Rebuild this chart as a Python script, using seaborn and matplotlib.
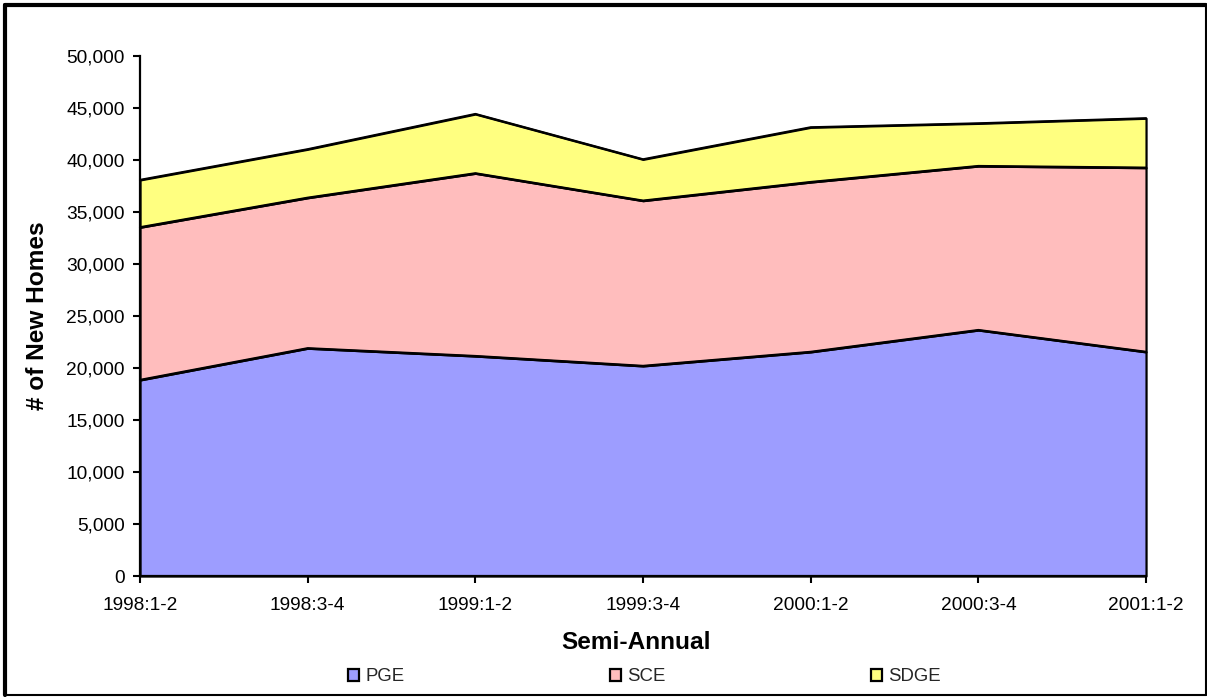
import matplotlib
matplotlib.use("Agg")
import matplotlib.pyplot as plt
from matplotlib.patches import Patch
from matplotlib.lines import Line2D
from matplotlib.ticker import FuncFormatter, MultipleLocator
import numpy as np
import pandas as pd
import seaborn as sns

# New homes per semi-annual period, by utility
periods = ["1998:1-2", "1998:3-4", "1999:1-2", "1999:3-4", "2000:1-2", "2000:3-4", "2001:1-2"]
pge = [18850, 21900, 21150, 20200, 21550, 23650, 21550]
sce = [14680, 14470, 17570, 15890, 16330, 15770, 17710]
sdge = [4550, 4660, 5700, 3970, 5260, 4100, 4750]
series_names = ["PGE", "SCE", "SDGE"]
series_colors = ["#9D9DFF", "#FFBDBD", "#FFFF80"]

sns.set_theme(style="ticks")
plt.rcParams["font.family"] = ["Liberation Sans", "DejaVu Sans"]

df = pd.DataFrame({"period": periods, "PGE": pge, "SCE": sce, "SDGE": sdge})
x = np.arange(len(periods))

fig = plt.figure(figsize=(12.07, 6.97), dpi=100)
ax = fig.add_axes([0.1160, 0.1736, 0.8335, 0.7461])

polys = ax.stackplot(x, df["PGE"], df["SCE"], df["SDGE"],
                     colors=series_colors, edgecolor="black", linewidth=1.6)
for p in polys:
    p.set_clip_on(False)

# cumulative boundaries drawn as lines
cum = df[series_names].cumsum(axis=1)
long = cum.assign(pos=x).melt(id_vars="pos", var_name="series", value_name="total")
sns.lineplot(data=long, x="pos", y="total", hue="series",
             palette=["black"] * 3, linewidth=1.6, legend=False, ax=ax, clip_on=False)

ax.set_xlim(0, len(periods) - 1)
ax.set_ylim(0, 50000)
ax.set_xticks(x)
ax.set_xticklabels(periods)
ax.yaxis.set_major_locator(MultipleLocator(5000))
ax.yaxis.set_major_formatter(FuncFormatter(lambda v, _: f"{int(v):,}"))

for side in ["top", "right"]:
    ax.spines[side].set_visible(False)
for side in ["left", "bottom"]:
    ax.spines[side].set_linewidth(1.6)
    ax.spines[side].set_color("black")
    ax.spines[side].set_zorder(5)

ax.tick_params(axis="both", which="major", direction="out", length=5, width=1.5,
               colors="black", labelsize=13.8)
ax.tick_params(axis="y", pad=6)
ax.tick_params(axis="x", pad=10)

ax.set_xlabel("Semi-Annual", fontsize=17.6, fontweight="bold", color="black")
ax.set_ylabel("# of New Homes", fontsize=17.6, fontweight="bold", color="black")
ax.xaxis.set_label_coords(0.493, -0.105)
ax.yaxis.set_label_coords(-0.09, 0.5)

handles = [Patch(facecolor=c, edgecolor="black", linewidth=1.6) for c in series_colors]
fig.legend(handles, series_names, loc="center", ncol=3, mode="expand",
           bbox_to_anchor=(0.2883, 0.0087, 0.4913, 0.04), frameon=False,
           fontsize=13.4, handlelength=0.6, handleheight=0.6, handletextpad=0.35,
           borderpad=0, borderaxespad=0)

# outer frame of the chart
fig.add_artist(Line2D([0.004, 0.999], [0.993, 0.993], transform=fig.transFigure,
                      color="black", linewidth=3))
fig.add_artist(Line2D([0.004, 0.004], [0.003, 0.993], transform=fig.transFigure,
                      color="black", linewidth=3))
fig.add_artist(Line2D([0.004, 0.999], [0.003, 0.003], transform=fig.transFigure,
                      color="black", linewidth=1.5))
fig.add_artist(Line2D([0.999, 0.999], [0.003, 0.993], transform=fig.transFigure,
                      color="black", linewidth=1.5))

fig.savefig("out.png", dpi=100, facecolor="white")
